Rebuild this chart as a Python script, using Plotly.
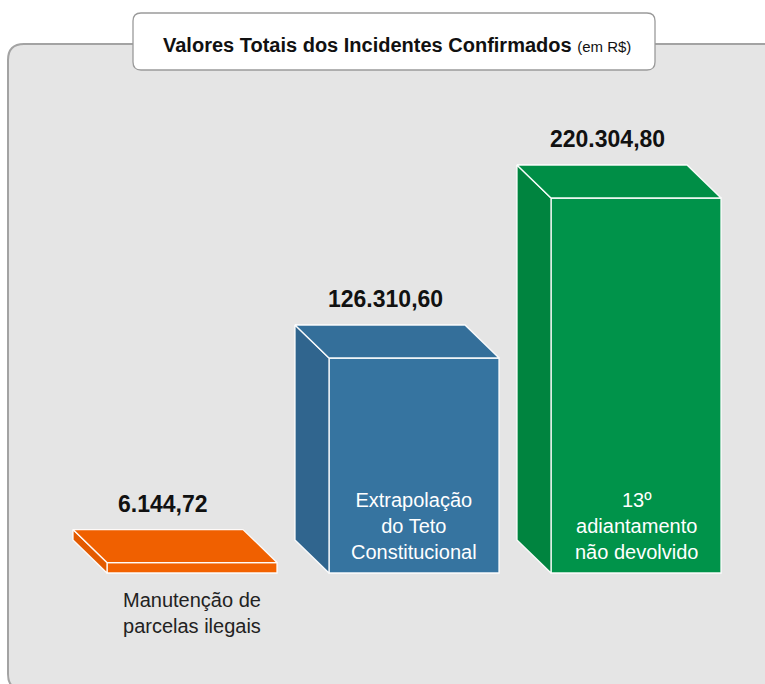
import plotly.graph_objects as go

# ---------------- data ----------------
categories = ["Manutenção de<br>parcelas ilegais",
              "Extrapolação<br>do Teto<br>Constitucional",
              "13º<br>adiantamento<br>não devolvido"]
values = [6144.72, 126310.60, 220304.80]
front_colors = ["#f26200", "#3674a0", "#00934a"]
side_colors = ["#e35a00", "#30658e", "#00843f"]
top_colors = ["#f06000", "#346f9a", "#008e46"]
title_main = "Valores Totais dos Incidentes Confirmados"
title_unit = "(em R$)"

# ---------------- layout geometry (pixels) ----------------
W, H = 765, 684
STEP_PX = 222          # distance between bar centres
FIRST_PX = 192         # centre of first bar front face
BAR_PX = 170           # front face width
DX_PX, DY_PX = 34, 33  # 3-D depth offset (back goes up-left)
BASE_PX = 573          # baseline y pixel
MAXH_PX = 375          # height of tallest bar front face

vpp = max(values) / MAXH_PX           # value per pixel
x_range = [-FIRST_PX / STEP_PX, (W - FIRST_PX) / STEP_PX]
y_range = [-(H - BASE_PX) * vpp, BASE_PX * vpp]
bw = BAR_PX / STEP_PX
dx = DX_PX / STEP_PX
dy = DY_PX * vpp

FONT = "Liberation Sans, Arial, sans-serif"


def fmt_br(v):
    s = f"{v:,.2f}"
    return s.replace(",", "X").replace(".", ",").replace("X", ".")


fig = go.Figure()
edge = dict(color="rgba(255,255,255,0.95)", width=1.3)

for i, (v, fc, sc, tc) in enumerate(zip(values, front_colors, side_colors, top_colors)):
    xl, xr = i - bw / 2, i + bw / 2
    # front face
    fig.add_trace(go.Bar(x=[i], y=[v], base=0, width=bw, marker_color=fc,
                         marker_line=edge, hoverinfo="skip", showlegend=False))
    # left side face
    fig.add_trace(go.Scatter(x=[xl, xl, xl - dx, xl - dx, xl],
                             y=[0, v, v + dy, dy, 0],
                             fill="toself", fillcolor=sc, mode="lines", line=edge,
                             hoverinfo="skip", showlegend=False))
    # top face
    fig.add_trace(go.Scatter(x=[xl, xr, xr - dx, xl - dx, xl],
                             y=[v, v, v + dy, v + dy, v],
                             fill="toself", fillcolor=tc, mode="lines", line=edge,
                             hoverinfo="skip", showlegend=False))
    # value label
    fig.add_annotation(x=i - 0.13, y=v + dy, xref="x", yref="y", yshift=26,
                       text=f"<b>{fmt_br(v)}</b>", showarrow=False,
                       font=dict(family=FONT, size=23, color="#111111"))
    # category label: inside the bar if tall enough, else below
    if v / vpp > 90:
        fig.add_annotation(x=i, y=0, xref="x", yref="y", yanchor="bottom", yshift=8,
                           text=categories[i], showarrow=False, align="center",
                           font=dict(family=FONT, size=20, color="white"))
    else:
        fig.add_annotation(x=i, y=0, xref="x", yref="y", yanchor="top", yshift=-14,
                           text=categories[i], showarrow=False, align="center",
                           font=dict(family=FONT, size=20, color="#222222"))


def rrect(x0, y0, x1, y1, r):
    # rounded rectangle path in paper coordinates from pixel coordinates
    def p(x, y):
        return f"{x / W:.5f},{1 - y / H:.5f}"
    return (f"M {p(x0 + r, y0)} L {p(x1 - r, y0)} Q {p(x1, y0)} {p(x1, y0 + r)} "
            f"L {p(x1, y1 - r)} Q {p(x1, y1)} {p(x1 - r, y1)} "
            f"L {p(x0 + r, y1)} Q {p(x0, y1)} {p(x0, y1 - r)} "
            f"L {p(x0, y0 + r)} Q {p(x0, y0)} {p(x0 + r, y0)} Z")


shapes = [
    dict(type="path", xref="paper", yref="paper", layer="below",
         path=rrect(8, 44, 800, 690, 16),
         fillcolor="#e5e5e5", line=dict(color="#a3a3a3", width=2)),
    dict(type="path", xref="paper", yref="paper", layer="below",
         path=rrect(133, 13, 655, 70, 8),
         fillcolor="white", line=dict(color="#9a9a9a", width=1.3)),
]

fig.add_annotation(x=397 / W, y=1 - 45 / H, xref="paper", yref="paper",
                   xanchor="center", yanchor="middle",
                   text=f"<b>{title_main}</b> <span style='font-size:15px'>{title_unit}</span>",
                   showarrow=False, font=dict(family=FONT, size=20, color="#111111"))

fig.update_layout(
    width=W, height=H, margin=dict(l=0, r=0, t=0, b=0),
    paper_bgcolor="white", plot_bgcolor="rgba(0,0,0,0)",
    barmode="overlay", shapes=shapes, showlegend=False,
    xaxis=dict(range=x_range, visible=False, fixedrange=True),
    yaxis=dict(range=y_range, visible=False, fixedrange=True),
)

fig.write_html("out.html", config={"displayModeBar": False},
               post_script="document.body.style.margin='0';")
